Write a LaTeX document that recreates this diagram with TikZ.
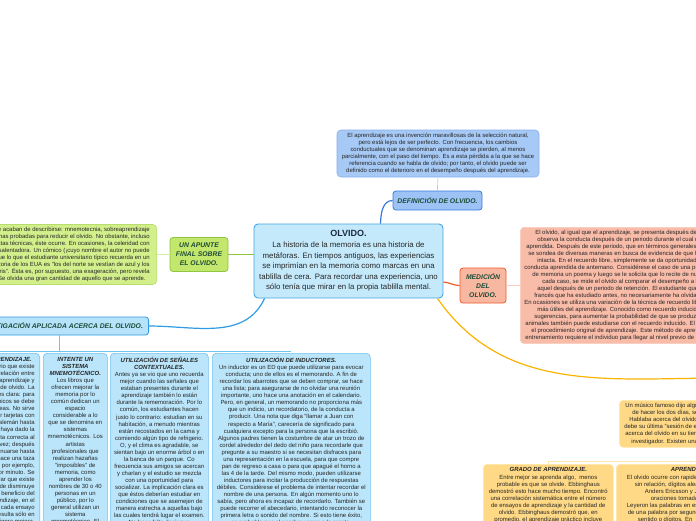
\documentclass[tikz,border=0pt]{standalone}
\usepackage{fontspec}
\setmainfont{Liberation Sans}
\usetikzlibrary{positioning}
\definecolor{CyanFill}{HTML}{C4E9FB}
\definecolor{CyanLine}{HTML}{45A6E2}
\definecolor{BlueFill}{HTML}{9CC2F6}
\definecolor{BlueLine}{HTML}{3A7BDB}
\definecolor{BlueNote}{HTML}{A6C9F5}
\definecolor{BlueNoteLine}{HTML}{86B2EE}
\definecolor{GreenFill}{HTML}{C3E76C}
\definecolor{GreenLine}{HTML}{8DC63F}
\definecolor{GreenNote}{HTML}{D3EF8C}
\definecolor{GreenNoteLine}{HTML}{B5DE6A}
\definecolor{GreenStub}{HTML}{D5EFA0}
\definecolor{SkyFill}{HTML}{B6E3F9}
\definecolor{SkyLine}{HTML}{2E9BE3}
\definecolor{KidFill}{HTML}{BAE5FA}
\definecolor{KidLine}{HTML}{72C2EE}
\definecolor{SalmonFill}{HTML}{F8B7A1}
\definecolor{SalmonLine}{HTML}{EF5B2A}
\definecolor{SalmonNote}{HTML}{F9BCA8}
\definecolor{SalmonNoteLine}{HTML}{F7CDBE}
\definecolor{SalmonStub}{HTML}{F9CDBD}
\definecolor{YellowNote}{HTML}{FFD986}
\definecolor{YellowNoteLine}{HTML}{FFE7A9}
\definecolor{YellowLine}{HTML}{F9B400}
\definecolor{LabelText}{HTML}{1E4B37}
\definecolor{NoteText}{HTML}{262626}
\definecolor{TitleText}{HTML}{1B2A44}
\newcommand{\notetitle}[1]{{\bfseries\itshape #1}}
\newcommand{\indentby}[1]{\hspace*{#1pt}}

\begin{document}
\begin{tikzpicture}[x=1pt, y=-1pt,
    topic/.style={
        rectangle, rounded corners=3pt, draw=#1, line width=0.8pt,
        font=\fontsize{6.8}{9}\selectfont\bfseries\itshape, text=LabelText,
        align=center, inner sep=1.5pt
    },
    note/.style={
        rectangle, rounded corners=4pt, draw=#1, line width=0.6pt,
        font=\fontsize{5.95}{7.05}\selectfont, text=NoteText, inner sep=2pt
    },
    kid/.style={note=KidLine, fill=KidFill, inner ysep=4pt},
    link/.style={line width=1.2pt, draw=#1},
    stub/.style={line width=1.6pt, draw=#1}
]
\useasboundingbox (0,0) rectangle (696,520);
\clip (0,0) rectangle (696,520);
\fill[white] (0,0) rectangle (696,520);

% Central topic
\node[rectangle, rounded corners=4pt, draw=CyanLine, line width=0.9pt, fill=CyanFill,
      minimum width=189pt, minimum height=74pt, align=center, inner xsep=1pt,
      font=\fontsize{7.85}{10.6}\selectfont, text=NoteText] (olvido) at (348.5,261)
    {{\fontsize{9}{10.6}\selectfont\bfseries\color{TitleText}OLVIDO.}\\
     La historia de la memoria es una historia de\\
     metáforas. En tiempos antiguos, las experiencias\\
     se imprimían en la memoria como marcas en una\\
     tablilla de cera. Para recordar una experiencia, uno\\
     sólo tenía que mirar en la propia tablilla mental.};

% Definition
\node[topic=BlueLine, fill=BlueFill, minimum width=89pt, minimum height=19pt] (defin)
    at (437.5,200.5) {DEFINICIÓN DE OLVIDO.};
\node[note=BlueNoteLine, fill=BlueNote, minimum width=202pt, minimum height=47pt,
      align=center] (definote) at (438,153.5)
    {El aprendizaje es una invención maravillosas de la selección natural,\\
     pero está lejos de ser perfecto. Con frecuencia, los cambios\\
     conductuales que se denominan aprendizaje se pierden, al menos\\
     parcialmente, con el paso del tiempo. Es a esta pérdida a la que se hace\\
     referencia cuando se habla de olvido; por tanto, el olvido puede ser\\
     definido como el deterioro en el desempeño después del aprendizaje.};

% Final note
\node[topic=GreenLine, fill=GreenFill, minimum width=58pt, minimum height=34pt] (apunte)
    at (199,254.5) {UN APUNTE\\FINAL SOBRE\\EL OLVIDO.};
\node[note=GreenNoteLine, fill=GreenNote, minimum height=60pt, align=right,
      inner xsep=7pt, anchor=east] (apuntenote) at (157,254.5)
    {Todas las técnicas que acaban de describirse: mnemotecnia, sobreaprendizaje\\
     y otras, son formas probadas para reducir el olvido. No obstante, incluso\\
     con el empleo de estas técnicas, éste ocurre. En ocasiones, la celeridad con\\
     que ocurre es desalentadora. Un cómico (¡cuyo nombre el autor no puede\\
     recordar!) dijo que lo que el estudiante universitario típico recuerda en un\\
     curso sobre la historia de los EUA es "los del norte se vestían de azul y los\\
     del sur de gris". Ésta es, por supuesto, una exageración, pero revela\\
     una verdad: Se olvida una gran cantidad de aquello que se aprende.\indentby{4}};

% Applied research
\node[topic=SkyLine, fill=SkyFill, minimum width=178pt, minimum height=18pt,
      anchor=east] (invest) at (149,326) {INVESTIGACIÓN APLICADA ACERCA DEL OLVIDO.};

\node[kid, anchor=north east, align=right, inner xsep=5pt, minimum width=64pt] (sobreap)
    at (40,353)
    {\notetitle{SOBREAPRENDIZAJE.}\indentby{3}\\
     Es notorio que existe\\
     una estrecha relación entre\indentby{6}\\
     el grado de aprendizaje y\indentby{1}\\
     la tasa de olvido. La\indentby{6}\\
     implicación es clara: para\indentby{1}\\
     los olvidos académicos se debe\indentby{4}\\
     las tareas. No sirve\indentby{2}\\
     de nada estudiar tarjetas con\indentby{2}\\
     palabras en alemán hasta\indentby{2}\\
     que uno haya dado la\indentby{4}\\
     respuesta correcta al\indentby{4}\\
     menos una vez; después\\
     el estudio debe continuarse hasta\indentby{4}\\
     que se hace una taza\indentby{3}\\
     de café, por ejemplo,\\
     a una palabra por minuto. Se\\
     debe considerar que existe\indentby{3}\\
     un cierto punto de disminuye\\
     el beneficio del\indentby{9}\\
     sobreaprendizaje, en el\indentby{3}\\
     que cada ensayo\indentby{8}\\
     adicional resulta sólo en\indentby{3}\\
     una ligera mejora.};

\node[kid, anchor=north west, align=center, minimum width=64pt] (mnemo) at (43,353)
    {\notetitle{INTENTE UN}\\ \notetitle{SISTEMA}\\ \notetitle{MNEMOTÉCNICO.}\\
     Los libros que\\ ofrecen mejorar la\\ memoria por lo\\ común dedican un\\
     espacio\\ considerable a lo\\ que se denomina en\\ sistemas\\
     mnemotécnicos. Los\\ artistas\\ profesionales que\\ realizan hazañas\\
     "imposibles" de\\ memoria, como\\ aprender los\\ nombres de 30 o 40\\
     personas en un\\ público, por lo\\ general utilizan un\\ sistema\\
     mnemotécnico. El\\ más común};

\node[kid, anchor=north west, align=center, minimum width=98pt] (senales) at (110,353)
    {\notetitle{UTILIZACIÓN DE SEÑALES}\\ \notetitle{CONTEXTUALES.}\\
     Antes ya se vio que uno recuerda\\
     mejor cuando las señales que\\
     estaban presentes durante el\\
     aprendizaje también lo están\\
     durante la rememoración. Por lo\\
     común, los estudiantes hacen\\
     justo lo contrario: estudian en su\\
     habitación, a menudo mientras\\
     están recostados en la cama y\\
     comiendo algún tipo de refrigerio.\\
     O, y el clima es agradable, se\\
     sientan bajo un enorme árbol o en\\
     la banca de un parque. Co\\
     frecuencia sus amigos se acercan\\
     y charlan y el estudio se mezcla\\
     con una oportunidad para\\
     socializar. La implicación clara es\\
     que éstos deberían estudiar en\\
     condiciones que se asemejen de\\
     manera estrecha a aquellas bajo\\
     las cuales tendrá lugar el examen.\\
     No hace falta decir que\\ esto es difícil};

\node[kid, anchor=north west, align=center, minimum width=158pt] (induct) at (212,353)
    {\notetitle{UTILIZACIÓN DE INDUCTORES.}\\
     Un inductor es un ED que puede utilizarse para evocar\\
     conducta; uno de ellos es el memorando. A fin de\\
     recordar los abarrotes que se deben comprar, se hace\\
     una lista; para asegurarse de no olvidar una reunión\\
     importante, uno hace una anotación en el calendario.\\
     Pero, en general, un memorando no proporciona más\\
     que un indicio, un recordatorio, de la conducta a\\
     producir. Una nota que diga "llamar a Juan con\\
     respecto a María", carecería de significado para\\
     cualquiera excepto para la persona que la escribió.\\
     Algunos padres tienen la costumbre de atar un trozo de\\
     cordel alrededor del dedo del niño para recordarle que\\
     pregunte a su maestro si se necesitan disfraces para\\
     una representación en la escuela, para que compre\\
     pan de regreso a casa o para que apagué el horno a\\
     las 4 de la tarde. Del mismo modo, pueden utilizarse\\
     inductores para incitar la producción de respuestas\\
     débiles. Considérese el problema de intentar recordar el\\
     nombre de una persona. En algún momento uno lo\\
     sabía, pero ahora es incapaz de recordarlo. También se\\
     puede recorrer el abecedario, intentando reconocer la\\
     primera letra o sonido del nombre. Si esto tiene éxito,\\
     es probable que el nombre venga a la mente.\\ Otro inductor};

% Measuring
\node[topic=SalmonLine, fill=SalmonFill, minimum width=46pt, minimum height=35pt] (medic)
    at (483,285.5) {MEDICIÓN\\DEL\\OLVIDO.};
\node[note=SalmonNoteLine, fill=SalmonNote, anchor=north west, align=left,
      inner xsep=0pt, inner ysep=2.5pt] (medinote) at (520,227)
    {\indentby{15}El olvido, al igual que el aprendizaje, se presenta después de la práctica. Se\\
     \indentby{17}observa la conducta después de un periodo durante el cual no se practica\\
     \indentby{6}aprendida. Después de este periodo, que en términos generales se llama\\
     \indentby{8}se sondea de diversas maneras en busca de evidencia de que la conducta\\
     \indentby{17}intacta. En el recuerdo libre, simplemente se da oportunidad al individuo\\
     \indentby{4}conducta aprendida de antemano. Considérese el caso de una persona que\\
     \indentby{12}de memoria un poema y luego se le solicita que lo recite de nuevo tiempo\\
     \indentby{22}cada caso, se mide el olvido al comparar el desempeño a la terminación\\
     \indentby{17}aquel después de un periodo de retención. El estudiante que no recuerda\\
     \indentby{14}francés que ha estudiado antes, no necesariamente ha olvidado todo\\
     \indentby{4}En ocasiones se utiliza una variación de la técnica de recuerdo libre para\\
     \indentby{17}más útiles del aprendizaje. Conocido como recuerdo inducido, este\\
     \indentby{14}sugerencias, para aumentar la probabilidad de que se produzca la\\
     \indentby{5}animales también puede estudiarse con el recuerdo inducido. El olvido\\
     \indentby{11}el procedimiento original de aprendizaje. Este método de aprendizaje\\
     \indentby{5}entrenamiento requiere el individuo para llegar al nivel previo de desempeño.};

% Yellow branch
\node[note=YellowNoteLine, fill=YellowNote, anchor=north west, align=left,
      inner xsep=0pt, minimum height=47pt] (musico) at (619,400)
    {\indentby{6}Un músico famoso dijo alguna vez que si\\
     \indentby{13}de hacer los dos días, se daba\\
     \indentby{10}Hablaba acerca del olvido. Gran\\
     \indentby{5}debe su última "sesión de ensayo"\\
     \indentby{6}acerca del olvido en su tiempo de\\
     \indentby{12}investigador. Existen una serie};

\node[note=YellowNoteLine, fill=YellowNote, anchor=north west, align=center,
      minimum width=130pt, inner ysep=3.5pt] (gradoap) at (483,464)
    {\notetitle{GRADO DE APRENDIZAJE.}\\
     Entre mejor se aprenda algo,~ menos\\
     probable es que se olvide. Ebbinghaus\\
     demostró esto hace mucho tiempo. Encontró\\
     una correlación sistemática entre el número\\
     de ensayos de aprendizaje y la cantidad de\\
     olvido. Ebbinghaus demostró que, en\\
     promedio, el aprendizaje práctico incluye\\
     una mejora};

\node[note=YellowNoteLine, fill=YellowNote, anchor=north west, align=left,
      inner xsep=0pt, inner ysep=3.5pt, minimum width=130pt] (aprevio) at (616,464)
    {\indentby{47}\notetitle{APRENDIZAJE PREVIO.}\\
     \indentby{3}El olvido ocurre con rapidez cuando\\
     \indentby{11}sin relación, dígitos aleatorios\\
     \indentby{21}Anders Ericsson y John Kintsch\\
     \indentby{27}oraciones tomadas de cuentos\\
     \indentby{3}Leyeron las palabras en estas\\
     \indentby{4}de una palabra por segundo\\
     \indentby{14}sentido o dígitos. En\\
     \indentby{10}los resultados};

\coordinate (yelhub) at (725,378);
\coordinate (yelbar) at (705,461.5);
\coordinate (kidbar) at ([yshift=2pt]induct.north);

% Connectors
\draw[link=BlueLine] ([xshift=32pt]olvido.north) to[out=88, in=180] (defin.west);
\draw[thin, BlueNoteLine] (defin.north) -- (definote.south);
\draw[link=GreenLine] (olvido.west |- apunte.east) -- (apunte.east);
\draw[stub=GreenStub] (apunte.west) -- (apunte.west -| apuntenote.east);
\draw[link=SkyLine] ([xshift=11pt]olvido.south west) to[out=-115, in=0] (invest.east);
\draw[thin, KidLine] (invest.south) -- (invest.south |- kidbar);
\draw[thin, KidLine] (sobreap.north |- kidbar) -- (kidbar);
\draw[link=SalmonLine] ([yshift=-21pt]olvido.east) to[out=-5, in=180] (medic.west);
\draw[stub=SalmonStub] (medic.east) -- (medic.east -| medinote.west);
\draw[link=YellowLine] ([xshift=-6pt]olvido.south east) to[out=-55, in=180] (yelhub);
\draw[thin, YellowNoteLine] (gradoap.north) |- (yelbar);

\end{tikzpicture}
\end{document}
